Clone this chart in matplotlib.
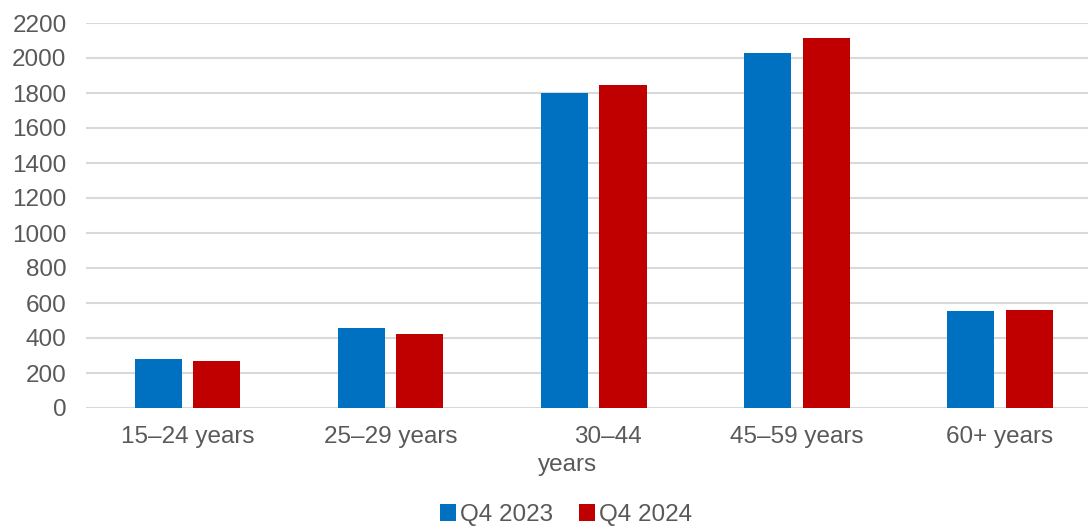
import numpy as np
import matplotlib
matplotlib.use('Agg')
import matplotlib.pyplot as plt
from matplotlib.patches import Patch

# values
categories = ['15–24 years', '25–29 years', '30–44', '45–59 years', '60+ years']
q4_2023 = [278, 459, 1802, 2027, 552]
q4_2024 = [267, 423, 1844, 2114, 558]
series_names = ['Q4 2023', 'Q4 2024']

blue = '#0070C0'
red = '#C00000'
grey_text = '#595959'
fs = 17.5

plt.rcParams['font.family'] = ['Liberation Sans', 'DejaVu Sans']

fig = plt.figure(figsize=(10.88, 5.26), dpi=100)
# axes runs past the right edge, like the original
ax = fig.add_axes([86 / 1088, 1 - 408 / 526, (1101.5 - 86) / 1088, (408 - 23) / 526])

x = np.arange(len(categories))
w = 0.232
off = 0.144
ax.bar(x - off, q4_2023, width=w, color=blue, zorder=3)
ax.bar(x + off, q4_2024, width=w, color=red, zorder=3)

ax.set_xlim(-0.5, len(categories) - 0.5)
ax.set_ylim(0, 2200)
ax.set_yticks(np.arange(0, 2201, 200))
ax.yaxis.grid(True, color='#D9D9D9', linewidth=1.5, zorder=0)
ax.set_axisbelow(True)
for s in ax.spines.values():
    s.set_visible(False)
ax.tick_params(axis='both', length=0, labelsize=fs, labelcolor=grey_text)
ax.tick_params(axis='y', pad=14)
ax.tick_params(axis='x', pad=13)

ax.set_xticks(x)
labels = list(categories)
labels[2] = ''
ax.set_xticklabels(labels)
# the wrapped label sits a bit off-centre in the original
ax.annotate('30–44', xy=(2, 0), xycoords=('data', 'axes fraction'),
            xytext=(14, -18), textcoords='offset pixels', ha='center', va='top',
            fontsize=fs, color=grey_text)
ax.annotate('years', xy=(2, 0), xycoords=('data', 'axes fraction'),
            xytext=(-26, -46), textcoords='offset pixels', ha='center', va='top',
            fontsize=fs, color=grey_text)

handles = [Patch(facecolor=blue), Patch(facecolor=red)]
fig.legend(handles, series_names, loc='center', bbox_to_anchor=(566 / 1088, 1 - 515 / 526),
           ncol=2, frameon=False, fontsize=fs, labelcolor=grey_text,
           handlelength=0.65, handleheight=0.65, handletextpad=0.15, columnspacing=1.1)

fig.savefig('out.png', dpi=100)
